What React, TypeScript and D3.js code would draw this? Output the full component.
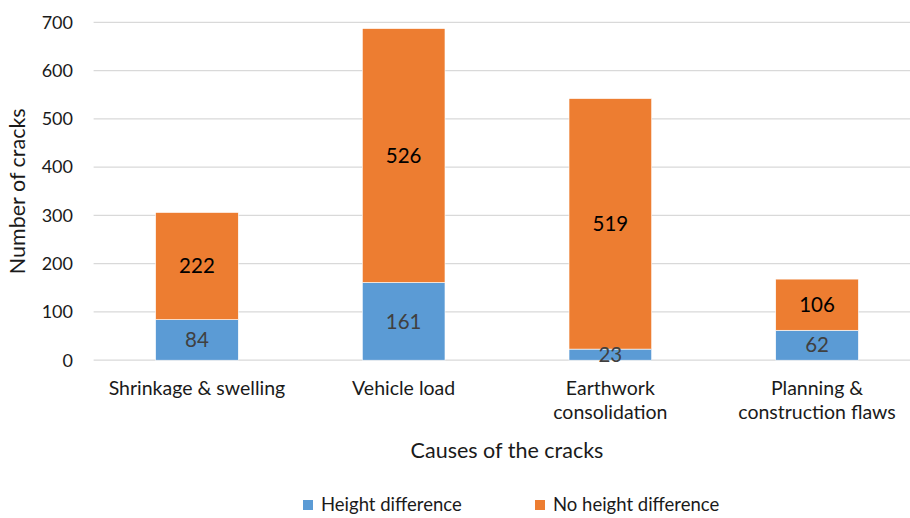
import React from "react";
import * as d3 from "d3";

const categories = [
  ["Shrinkage & swelling"],
  ["Vehicle load"],
  ["Earthwork", "consolidation"],
  ["Planning &", "construction flaws"],
];
const heightDiff = [84, 161, 23, 62];
const noHeightDiff = [222, 526, 519, 106];
const yTicks = [0, 100, 200, 300, 400, 500, 600, 700];
const seriesNames = ["Height difference", "No height difference"];
const seriesColors = ["#5b9bd5", "#ed7d31"];

const W = 910;
const H = 518;
const FONT = "Lato, 'Open Sans', sans-serif";

export default function App() {
  const x = d3
    .scaleBand<number>()
    .domain(categories.map((_, i) => i))
    .range([93.6, 920.4])
    .paddingInner(0.6)
    .paddingOuter(0.3);
  const y = d3.scaleLinear().domain([0, 700]).range([360.2, 22.3]);

  return (
    <div style={{ position: "fixed", left: 0, top: 0 }}>
      <svg width={W} height={H} style={{ display: "block", background: "#fff" }}>
        {yTicks.map((t) => (
          <g key={t}>
            <line x1={93.6} x2={W} y1={y(t)} y2={y(t)} stroke="#d9d9d9" strokeWidth={1.3} />
            <text
              x={73}
              y={y(t)}
              dy="0.35em"
              textAnchor="end"
              fontFamily={FONT}
              fontSize={18}
              fill="#1a1a1a"
            >
              {t}
            </text>
          </g>
        ))}
        {categories.map((lines, i) => {
          const bx = x(i)!;
          const bw = x.bandwidth();
          const a = heightDiff[i];
          const b = noHeightDiff[i];
          const cx = bx + bw / 2;
          return (
            <g key={i}>
              <rect
                x={bx}
                y={y(a)}
                width={bw}
                height={y(0) - y(a)}
                fill={seriesColors[0]}
                stroke="#fff"
                strokeWidth={0.6}
              />
              <rect
                x={bx}
                y={y(a + b)}
                width={bw}
                height={y(a) - y(a + b)}
                fill={seriesColors[1]}
                stroke="#fff"
                strokeWidth={0.6}
              />
              <text
                x={cx}
                y={(y(0) + y(a)) / 2}
                dy="0.35em"
                textAnchor="middle"
                fontFamily={FONT}
                fontSize={20.5}
                fill="#404040"
              >
                {a}
              </text>
              <text
                x={cx}
                y={(y(a) + y(a + b)) / 2}
                dy="0.35em"
                textAnchor="middle"
                fontFamily={FONT}
                fontSize={20.5}
                fill="#000"
              >
                {b}
              </text>
              {lines.map((ln, j) => (
                <text
                  key={j}
                  x={cx}
                  y={395 + j * 24}
                  textAnchor="middle"
                  fontFamily={FONT}
                  fontSize={19.5}
                  fill="#1a1a1a"
                >
                  {ln}
                </text>
              ))}
            </g>
          );
        })}
        <text
          transform={`translate(25,${y(350)}) rotate(-90)`}
          textAnchor="middle"
          fontFamily={FONT}
          fontSize={21.5}
          fill="#1a1a1a"
        >
          Number of cracks
        </text>
        <text
          x={507}
          y={458}
          textAnchor="middle"
          fontFamily={FONT}
          fontSize={21.5}
          fill="#1a1a1a"
        >
          Causes of the cracks
        </text>
        {seriesNames.map((name, i) => {
          const lx = [303, 535][i];
          return (
            <g key={name}>
              <rect x={lx} y={500} width={10} height={10} fill={seriesColors[i]} />
              <text
                x={lx + 18}
                y={505}
                dy="0.35em"
                fontFamily={FONT}
                fontSize={18.5}
                fill="#1a1a1a"
              >
                {name}
              </text>
            </g>
          );
        })}
      </svg>
    </div>
  );
}
